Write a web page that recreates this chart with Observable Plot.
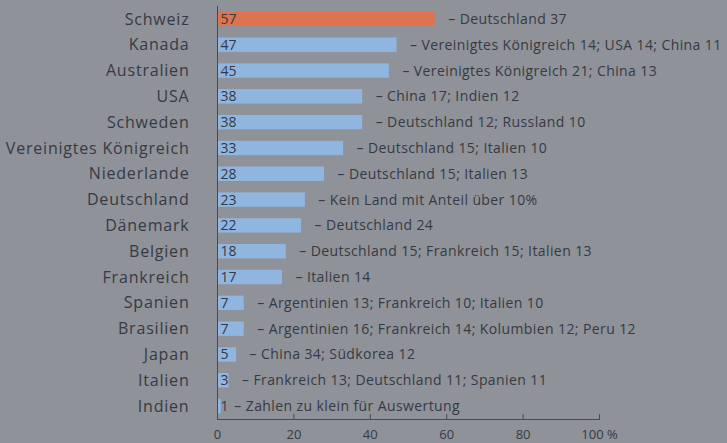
<!DOCTYPE html>
<html>
<head>
<meta charset="utf-8">
<script src="https://cdn.jsdelivr.net/npm/d3@7"></script>
<script src="https://cdn.jsdelivr.net/npm/@observablehq/plot@0.6"></script>
<style>
  html, body { margin: 0; padding: 0; background: #8f9298; }
  #chart svg { display: block; }
  g[aria-label="y-axis tick label"] text { letter-spacing: 0.8px; }
</style>
</head>
<body>
<div id="chart"></div>
<script>
const countries = ["Schweiz","Kanada","Australien","USA","Schweden","Vereinigtes Königreich","Niederlande","Deutschland","Dänemark","Belgien","Frankreich","Spanien","Brasilien","Japan","Italien","Indien"];
const values = [57,47,45,38,38,33,28,23,22,18,17,7,7,5,3,1];
const notes = [
  "– Deutschland 37",
  "– Vereinigtes Königreich 14; USA 14; China 11",
  "– Vereinigtes Königreich 21; China 13",
  "– China 17; Indien 12",
  "– Deutschland 12; Russland 10",
  "– Deutschland 15; Italien 10",
  "– Deutschland 15; Italien 13",
  "– Kein Land mit Anteil über 10%",
  "– Deutschland 24",
  "– Deutschland 15; Frankreich 15; Italien 13",
  "– Italien 14",
  "– Argentinien 13; Frankreich 10; Italien 10",
  "– Argentinien 16; Frankreich 14; Kolumbien 12; Peru 12",
  "– China 34; Südkorea 12",
  "– Frankreich 13; Deutschland 11; Spanien 11",
  "– Zahlen zu klein für Auswertung"
];
const xTicks = [0,20,40,60,80,100];

const data = countries.map((c, i) => ({country: c, value: values[i], note: notes[i], highlight: i === 0}));

const textColor = "#363a44";
const tickShape = {draw(ctx, l) { ctx.moveTo(0, 0); ctx.lineTo(0, -l); }};

const chart = Plot.plot({
  width: 727,
  height: 443,
  marginLeft: 217,
  marginRight: 128,
  marginTop: 6,
  marginBottom: 24,
  style: {background: "#8f9298", fontFamily: "'Open Sans', sans-serif", color: textColor},
  x: {domain: [0, 100], axis: null},
  y: {domain: countries, paddingInner: 0.44, paddingOuter: 0.22, round: false, axis: null},
  marks: [
    Plot.barX(data, {y: "country", x: "value", fill: d => d.highlight ? "#dc7450" : "#90b5df"}),
    Plot.frame({anchor: "left", stroke: "#464a54", strokeWidth: 1}),
    Plot.frame({anchor: "bottom", stroke: "#464a54", strokeWidth: 1}),
    Plot.vector(xTicks.slice(1), {x: d => d, frameAnchor: "bottom", length: 5, anchor: "start", shape: tickShape, stroke: "#464a54", strokeWidth: 1}),
    Plot.axisY({tickSize: 0, tickPadding: 28, fontSize: 16, fill: textColor, label: null}),
    Plot.text(xTicks, {x: d => d, frameAnchor: "bottom", dy: 19, text: d => d === 100 ? "100 %" : String(d), fontSize: 13, fill: textColor}),
    Plot.text(data, {y: "country", x: 0, dx: 3, text: d => String(d.value), textAnchor: "start", fontSize: 14, fill: textColor}),
    Plot.text(data, {y: "country", x: "value", dx: 13, text: "note", textAnchor: "start", fontSize: 14, fill: textColor})
  ]
});
// widen the annotation lettering (last text layer)
const textLayers = chart.querySelectorAll('g[aria-label="text"]');
if (textLayers.length) textLayers[textLayers.length - 1].style.letterSpacing = "0.4px";
document.getElementById("chart").appendChild(chart);
</script>
</body>
</html>
